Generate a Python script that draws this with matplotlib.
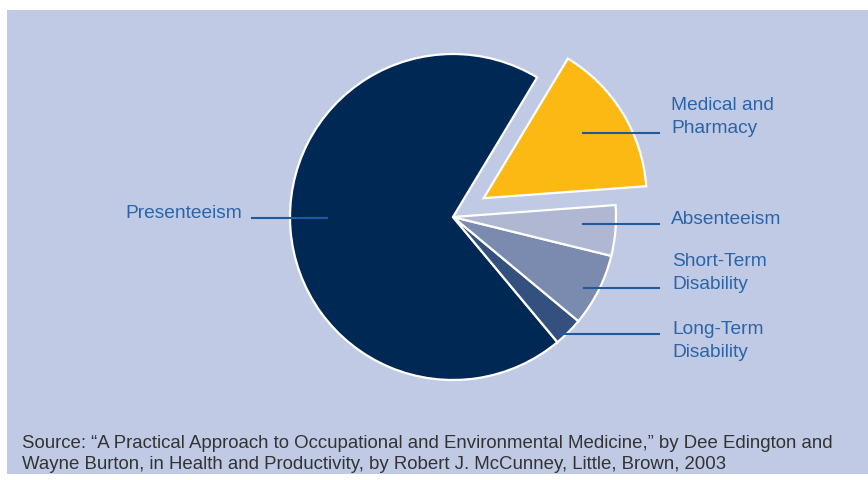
import matplotlib
matplotlib.use("Agg")
import matplotlib.pyplot as plt
from matplotlib.patches import Rectangle

# slice shares (percent), in drawing order
labels = ["Medical and\nPharmacy", "Presenteeism", "Long-Term\nDisability",
          "Short-Term\nDisability", "Absenteeism"]
shares = [15.2, 69.7, 2.9, 7.2, 5.0]
colors = ["#FDB913", "#002855", "#34507F", "#7A8BAF", "#B0B7D3"]

source = ("Source: \u201cA Practical Approach to Occupational and Environmental Medicine,\u201d by Dee Edington and\n"
          "Wayne Burton, in Health and Productivity, by Robert J. McCunney, Little, Brown, 2003")

W, H = 868, 481
fig = plt.figure(figsize=(W / 100, H / 100), dpi=100)
fig.patch.set_facecolor("white")
ax = fig.add_axes([0, 0, 1, 1])

def Y(y):
    # picture rows run downwards
    return H - y

# blue panel
ax.add_patch(Rectangle((7, Y(475)), W - 7, 475 - 11, facecolor="#C0CAE4",
                       edgecolor="none", zorder=0))

cx, cy, r = 453, Y(218), 163
# explode is in data units here (pixels), medical slice pulled out
explode = [36, 0, 0, 0, 0]
ax.pie(shares, colors=colors, explode=explode, startangle=4.2, counterclock=True,
       center=(cx, cy), radius=r, frame=True,
       wedgeprops=dict(edgecolor="white", linewidth=1.6))
ax.set_xlim(0, W)
ax.set_ylim(0, H)
ax.set_aspect("equal")
ax.axis("off")

txt_color = "#2B64A8"
line_color = "#1F5A9C"
font = ["Liberation Sans", "DejaVu Sans"]
fs = 13.8

# leader lines and labels (right side)
ax.plot([583, 659], [Y(134), Y(134)], color=line_color, lw=1.5, zorder=5)
ax.text(671, Y(117), labels[0], color=txt_color, fontsize=fs, family=font,
        ha="left", va="center", linespacing=1.4)
ax.plot([583, 659], [Y(225), Y(225)], color=line_color, lw=1.5, zorder=5)
ax.text(671, Y(219), labels[4], color=txt_color, fontsize=fs, family=font,
        ha="left", va="center")
ax.plot([584, 659], [Y(289), Y(289)], color=line_color, lw=1.5, zorder=5)
ax.text(672, Y(273), labels[3], color=txt_color, fontsize=fs, family=font,
        ha="left", va="center", linespacing=1.4)
ax.plot([559, 659], [Y(335), Y(335)], color=line_color, lw=1.5, zorder=5)
ax.text(672, Y(341), labels[2], color=txt_color, fontsize=fs, family=font,
        ha="left", va="center", linespacing=1.4)

# left label
ax.plot([252, 327], [Y(219), Y(219)], color=line_color, lw=1.5, zorder=5)
ax.text(242, Y(214), labels[1], color=txt_color, fontsize=fs, family=font,
        ha="right", va="center")

ax.text(22, Y(454), source, color="#333333", fontsize=13.4, family=font,
        ha="left", va="center", linespacing=1.28)

fig.savefig("out.png", dpi=100, facecolor=fig.get_facecolor())
